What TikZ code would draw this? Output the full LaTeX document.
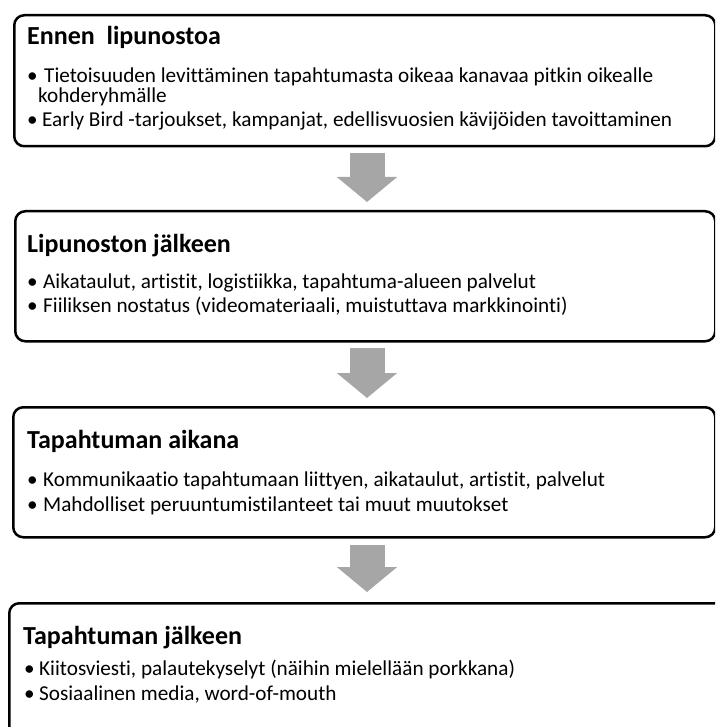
\documentclass[tikz,border=0pt]{standalone}
\usepackage{fontspec}
\setmainfont{Carlito}[Ligatures={NoCommon,NoRequired,NoContextual,NoDiscretionary}]
\usetikzlibrary{arrows.meta}
\definecolor{arrowgray}{HTML}{A6A6A6}
\tikzset{
  box/.style={draw=black, line width=2.5pt, rounded corners=10pt, anchor=north west, inner sep=0pt},
  ttl/.style={anchor=base west, inner sep=0pt, font=\fontsize{26}{30}\selectfont\bfseries},
  txt/.style={anchor=base west, inner sep=0pt, font=\fontsize{21.2}{25}\selectfont},
  dot/.style={anchor=base west, inner sep=0pt, font=\fontsize{21.2}{25}\selectfont},
  bigarrow/.style={draw=arrowgray, fill=arrowgray, line width=35pt, -{Triangle[width=59pt,length=25pt]}}
}
\begin{document}
\begin{tikzpicture}[x=1pt,y=-1pt]
\useasboundingbox (0,0) rectangle (715,727);
\clip (0,0) rectangle (715,727);
% boxes
\node[box, minimum width=701pt, minimum height=131pt] (b1) at (13,14) {};
\node[box, minimum width=700pt, minimum height=130pt] (b2) at (14,210) {};
\node[box, minimum width=702pt, minimum height=130pt] (b3) at (12,406) {};
\node[box, minimum width=740pt, minimum height=140pt] (b4) at (8,602) {};
% box 1
\node[ttl] (t1) at (27,45) {Ennen\ \ lipunostoa};
\node[dot] (d11) at (27,83) {•};
\node[txt] (l11) at (44,83) {Tietoisuuden levittäminen tapahtumasta oikeaa kanavaa pitkin oikealle};
\node[txt] (l12) at (38,103) {kohderyhmälle};
\node[dot] (d12) at (27,127) {•};
\node[txt] (l13) at (42,127) {Early Bird -tarjoukset, kampanjat, edellisvuosien kävijöiden tavoittaminen};
% box 2
\node[ttl] (t2) at (27,252) {Lipunoston jälkeen};
\node[dot] (d21) at (27,288) {•};
\node[txt] (l21) at (43,288) {Aikataulut, artistit, logistiikka, tapahtuma-alueen palvelut};
\node[dot] (d22) at (27,312) {•};
\node[txt] (l22) at (43,312) {Fiiliksen nostatus (videomateriaali, muistuttava markkinointi)};
% box 3
\node[ttl] (t3) at (27,448) {Tapahtuman aikana};
\node[dot] (d31) at (27,486) {•};
\node[txt] (l31) at (43,486) {Kommunikaatio tapahtumaan liittyen, aikataulut, artistit, palvelut};
\node[dot] (d32) at (27,511) {•};
\node[txt] (l32) at (43,511) {Mahdolliset peruuntumistilanteet tai muut muutokset};
% box 4
\node[ttl] (t4) at (23,644) {Tapahtuman jälkeen};
\node[dot] (d41) at (24,675) {•};
\node[txt] (l41) at (39,675) {Kiitosviesti, palautekyselyt (näihin mielellään porkkana)};
\node[dot] (d42) at (24,700) {•};
\node[txt] (l42) at (39,700) {Sosiaalinen media, word-of-mouth};
% arrows
\coordinate (a1s) at (367,153);
\coordinate (a1e) at (367,202);
\coordinate (a2s) at (367,348);
\coordinate (a2e) at (367,398);
\coordinate (a3s) at (367,545);
\coordinate (a3e) at (367,592);
\draw[bigarrow] (a1s) -- (a1e);
\draw[bigarrow] (a2s) -- (a2e);
\draw[bigarrow] (a3s) -- (a3e);
\end{tikzpicture}
\end{document}
